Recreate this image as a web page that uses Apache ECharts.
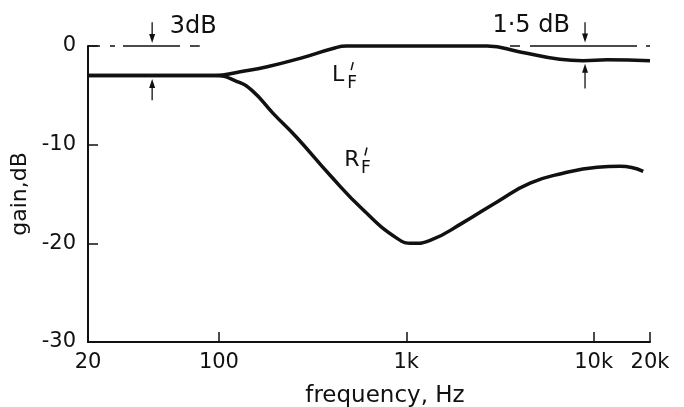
<!DOCTYPE html>
<html>
<head>
<meta charset="utf-8">
<script src="https://cdn.jsdelivr.net/npm/echarts@6/dist/echarts.min.js"></script>
<style>html,body{margin:0;padding:0;background:#fff}#c{width:684px;height:407px}</style>
</head>
<body>
<div id="c"></div>
<script>
// ---- data ----
const lFreq = [20, 60, 95, 130, 181, 271, 406, 480, 1000, 2700, 4050, 6600, 8800, 11800, 20000];
const lGain = [-3, -3, -3, -2.6, -2.1, -1.25, -0.25, 0, 0, 0, -0.6, -1.35, -1.5, -1.4, -1.5];
const rFreq = [20, 60, 95, 125, 150, 194, 261, 392, 588, 893, 1087, 1340, 2010, 3050, 4580, 6870, 10450, 13840, 18400];
const rGain = [-3, -3, -3, -3.6, -4.5, -6.8, -9.3, -13.1, -16.6, -19.5, -20, -19.7, -17.9, -15.8, -13.9, -12.9, -12.3, -12.2, -12.7];
const xTickValues = [20, 100, 1000, 10000, 20000];
const xTickLabels = ['20', '100', '1k', '10k', '20k'];
const yTickValues = [-30, -20, -10, 0];
const yTickLabels = ['-30', '-20', '-10', '0'];
// reference (0 dB) dashed segments and annotation arrows [from, to]
const refLeft = [[20, 0], [79, 0]];
const refRight = [[3580, 0], [20000, 0]];
const arrows = [
  [[44, 2.4], [44, 0.3]], [[44, -5.5], [44, -3.35]],
  [[9000, 2.4], [9000, 0.35]], [[9000, -4.3], [9000, -1.8]]
];
const notes = [
  {text: '3dB', at: [73, 1.9]},
  {text: '1·5 dB', at: [4640, 2.1]}
];
const curveLabels = [
  {main: 'L', at: [433, -2.95]},
  {main: 'R', at: [513, -11.6]}
];

const FONT = 'DejaVu Sans';
const INK = '#111';
const chart = echarts.init(document.getElementById('c'), null, {renderer: 'canvas'});

function labelFor(v, vals, labs) {
  let best = 0, bd = Infinity;
  vals.forEach((t, i) => { const d = Math.abs(t - v) / Math.max(Math.abs(t), 1); if (d < bd) { bd = d; best = i; } });
  return labs[best];
}

chart.setOption({
  animation: false,
  backgroundColor: '#fff',
  grid: {left: 88, right: 34, top: 46, bottom: 65, containLabel: false, outerBoundsMode: 'none'},
  xAxis: {
    type: 'log', logBase: 10, min: 20, max: 20000,
    name: 'frequency, Hz', nameLocation: 'middle', nameGap: 43,
    nameTextStyle: {fontFamily: FONT, fontSize: 23, color: INK, padding: [0, 0, 0, 32]},
    axisLine: {onZero: false, lineStyle: {color: INK, width: 2}},
    axisTick: {inside: true, length: 10, lineStyle: {color: INK, width: 1.5}},
    axisLabel: {fontFamily: FONT, fontSize: 21, color: INK, margin: 10,
      formatter: v => labelFor(v, xTickValues, xTickLabels)},
    splitLine: {show: false}, minorTick: {show: false}
  },
  yAxis: {
    type: 'value', min: -30, max: 0, interval: 10,
    name: 'gain,dB', nameLocation: 'middle', nameGap: 55, nameRotate: 90,
    nameTextStyle: {fontFamily: FONT, fontSize: 22, color: INK},
    axisLine: {onZero: false, lineStyle: {color: INK, width: 2}},
    axisTick: {inside: true, length: 10, lineStyle: {color: INK, width: 1.5}},
    axisLabel: {fontFamily: FONT, fontSize: 21, color: INK, margin: 12,
      formatter: v => labelFor(v, yTickValues, yTickLabels)},
    splitLine: {show: false}
  },
  series: [
    {
      type: 'line', name: "L'F", data: lFreq.map((f, i) => [f, lGain[i]]),
      smooth: 0.5, showSymbol: false, clip: false,
      lineStyle: {color: INK, width: 3.5}
    },
    {
      type: 'line', name: "R'F", data: rFreq.map((f, i) => [f, rGain[i]]),
      smooth: 0.5, showSymbol: false, clip: false,
      lineStyle: {color: INK, width: 3.5}
    }
  ]
});

// annotations placed through the chart's own coordinate conversion
const P = v => chart.convertToPixel({gridIndex: 0}, v);
const g = [];
function dashed(seg, dash) {
  const a = P(seg[0]), b = P(seg[1]);
  g.push({type: 'line', shape: {x1: a[0], y1: a[1], x2: b[0], y2: b[1]},
    style: {stroke: INK, lineWidth: 1.4, lineDash: dash}, z: 5});
}
dashed(refLeft, [12, 10, 5, 8, 57, 10, 10, 100]);
dashed(refRight, [10, 10, 107, 9, 6, 100]);
arrows.forEach(ar => {
  const a = P(ar[0]), b = P(ar[1]);
  const dir = Math.sign(b[1] - a[1]);
  g.push({type: 'line', shape: {x1: a[0], y1: a[1], x2: b[0], y2: b[1] - dir * 6},
    style: {stroke: INK, lineWidth: 1.3}, z: 5});
  g.push({type: 'polygon', shape: {points: [[b[0], b[1]], [b[0] - 3, b[1] - dir * 9], [b[0] + 3, b[1] - dir * 9]]},
    style: {fill: INK}, z: 5});
});
notes.forEach(n => {
  const p = P(n.at);
  g.push({type: 'text', x: p[0], y: p[1], style: {text: n.text, fontFamily: FONT, fontSize: 24, fill: INK, align: 'center', verticalAlign: 'middle'}, z: 6});
});
curveLabels.forEach(c => {
  const p = P(c.at);
  g.push({type: 'text', x: p[0], y: p[1], style: {text: c.main, fontFamily: FONT, fontSize: 22, fill: INK, align: 'center', verticalAlign: 'middle'}, z: 6});
  g.push({type: 'text', x: p[0] + 14, y: p[1] + 8, style: {text: 'F', fontFamily: FONT, fontSize: 17, fill: INK, align: 'center', verticalAlign: 'middle'}, z: 6});
  g.push({type: 'line', shape: {x1: p[0] + 15, y1: p[1] - 13, x2: p[0] + 13, y2: p[1] - 5}, style: {stroke: INK, lineWidth: 1.5}, z: 6});
});
chart.setOption({graphic: g});
</script>
</body>
</html>
